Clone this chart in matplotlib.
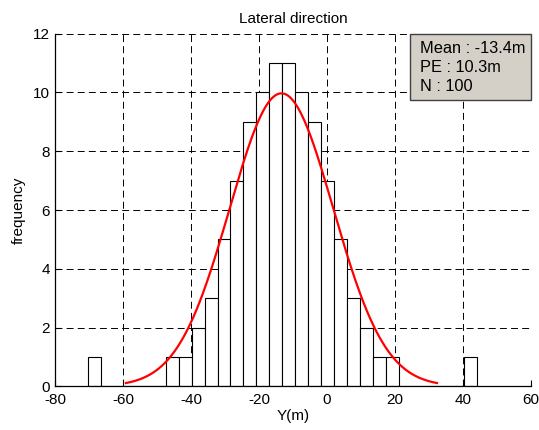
import numpy as np
import matplotlib
matplotlib.use('Agg')
from matplotlib import pyplot as plt
from matplotlib.patches import Rectangle

# histogram data (30 bins between min and max of the sample)
y_min = -70.4
y_max = 44.1
counts = [1, 0, 0, 0, 0, 0, 1, 1, 2, 3, 5, 7, 9, 10, 11, 11,
          10, 9, 7, 5, 3, 2, 1, 1, 0, 0, 0, 0, 0, 1]

# fit stats shown in the box
mean = -13.4
pe = 10.3
n = 100
stat_lines = ['Mean : -13.4m', 'PE : 10.3m', 'N : 100']

x_ticks = [-80, -60, -40, -20, 0, 20, 40, 60]
y_ticks = [0, 2, 4, 6, 8, 10, 12]

plt.rcParams['font.family'] = ['Liberation Sans', 'DejaVu Sans']
plt.rcParams['font.size'] = 11
plt.rcParams['axes.unicode_minus'] = False
plt.rcParams['lines.scale_dashes'] = False

fig = plt.figure(figsize=(5.39, 4.30), dpi=100)
ax = fig.add_axes([0.1026, 0.1016, 0.882, 0.820])

edges = np.linspace(y_min, y_max, len(counts) + 1)
width = edges[1] - edges[0]
ax.bar(edges[:-1], counts, width=width, align='edge',
       facecolor='white', edgecolor='black', linewidth=0.8, zorder=2)

# normal curve from mean and probable error, +-3 sigma
sigma = pe / 0.6745
xs = np.linspace(mean - 3 * sigma, mean + 3 * sigma, 200)
ys = n * width / (sigma * np.sqrt(2 * np.pi)) * np.exp(-0.5 * ((xs - mean) / sigma) ** 2)
ax.plot(xs, ys, color='red', linewidth=1.6, zorder=3)

ax.set_xlim(-80, 60)
ax.set_ylim(0, 12)
ax.set_xticks(x_ticks)
ax.set_yticks(y_ticks)
ax.set_axisbelow(True)
ax.grid(True, color='black', linestyle=(0, (5, 3)), linewidth=0.7)
for s in ['top', 'right']:
    ax.spines[s].set_visible(False)
for s in ['left', 'bottom']:
    ax.spines[s].set_linewidth(0.9)
    ax.spines[s].set_zorder(4)
ax.tick_params(direction='in', length=4, width=0.8, labelsize=11)
ax.tick_params(axis='x', pad=5)
ax.tick_params(axis='y', pad=4)

ax.set_title('Lateral direction', fontsize=11, pad=8)
ax.set_xlabel('Y(m)', labelpad=1)
ax.set_ylabel('frequency', labelpad=5)

box = Rectangle((0.746, 0.812), 0.254, 0.188, transform=ax.transAxes,
                facecolor='#d4d0c8', edgecolor='#404040', linewidth=1, zorder=5,
                clip_on=False)
ax.add_patch(box)
for i, t in enumerate(stat_lines):
    ax.text(0.767, 0.957 - i * 0.054, t, transform=ax.transAxes,
            va='center', ha='left', fontsize=11.8, zorder=6)

fig.savefig('out.png', dpi=100)
